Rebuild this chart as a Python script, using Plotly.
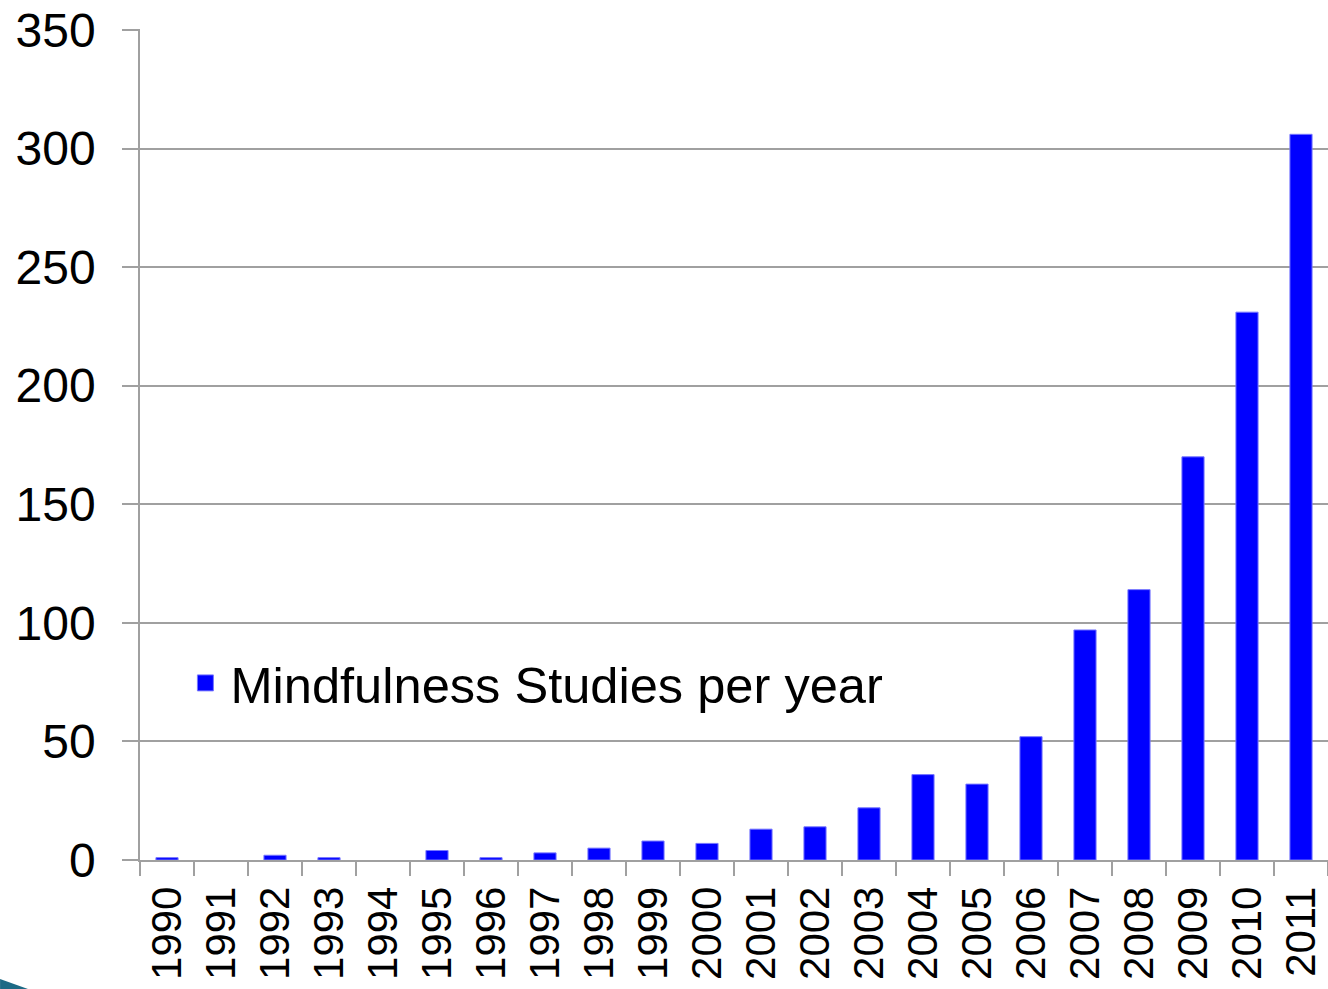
import plotly.graph_objects as go

years = [str(y) for y in range(1990, 2012)]
studies = [1, 0, 2, 1, 0, 4, 1, 3, 5, 8, 7, 13, 14, 22, 36, 32, 52, 97, 114, 170, 231, 306]
series_name = "Mindfulness Studies per year"
y_ticks = [0, 50, 100, 150, 200, 250, 300, 350]

fig = go.Figure()
fig.add_trace(go.Bar(
    x=years, y=studies, name=series_name,
    marker=dict(color="#0000FF",
                line=dict(color="#7777FF", width=[1 if v > 0 else 0 for v in studies])),
    showlegend=False,
))
# legend entry with a larger square swatch
fig.add_trace(go.Scatter(
    x=[None], y=[None], mode="markers", name=series_name,
    marker=dict(symbol="square", size=20, color="#0000FF", line=dict(color="#7777FF", width=1)),
    showlegend=True,
))

font = "Liberation Sans, Arial, sans-serif"
fig.update_layout(
    width=1328, height=989,
    margin=dict(l=140, r=0, t=29, b=129, autoexpand=False),
    paper_bgcolor="white", plot_bgcolor="white",
    bargap=0.59,
    font=dict(family=font, color="black"),
    showlegend=True,
    legend=dict(
        x=0.034, y=0.213, xanchor="left", yanchor="middle",
        bgcolor="rgba(0,0,0,0)", font=dict(size=50.6, family=font),
        itemwidth=40,
    ),
    xaxis=dict(
        type="category", tickangle=-90, tickfont=dict(size=42), automargin=False,
        showgrid=False, showline=True, linecolor="#a0a0a0", linewidth=1.5,
        ticks="outside", tickson="boundaries", ticklen=14, tickcolor="#a0a0a0",
        tickwidth=1.5, ticklabelstandoff=8,
    ),
    yaxis=dict(
        range=[0, 350.4], tickvals=y_ticks, tickfont=dict(size=48), automargin=False,
        ticklabeloverflow="allow",
        showgrid=True, gridcolor="#a0a0a0", gridwidth=1.5,
        showline=True, linecolor="#a0a0a0", linewidth=1.5,
        ticks="outside", ticklen=16, tickcolor="#a0a0a0", tickwidth=1.5,
        ticklabelstandoff=17, zeroline=False,
    ),
    shapes=[dict(
        type="path", xref="paper", yref="paper",
        path="M -0.1178,-0.1432 L -0.0943,-0.1552 L -0.1178,-0.1552 Z",
        fillcolor="#1d6a85", line=dict(width=0),
    )],
)

fig.write_html("out.html", config={"displayModeBar": False},
               post_script="document.body.style.margin='0';")
